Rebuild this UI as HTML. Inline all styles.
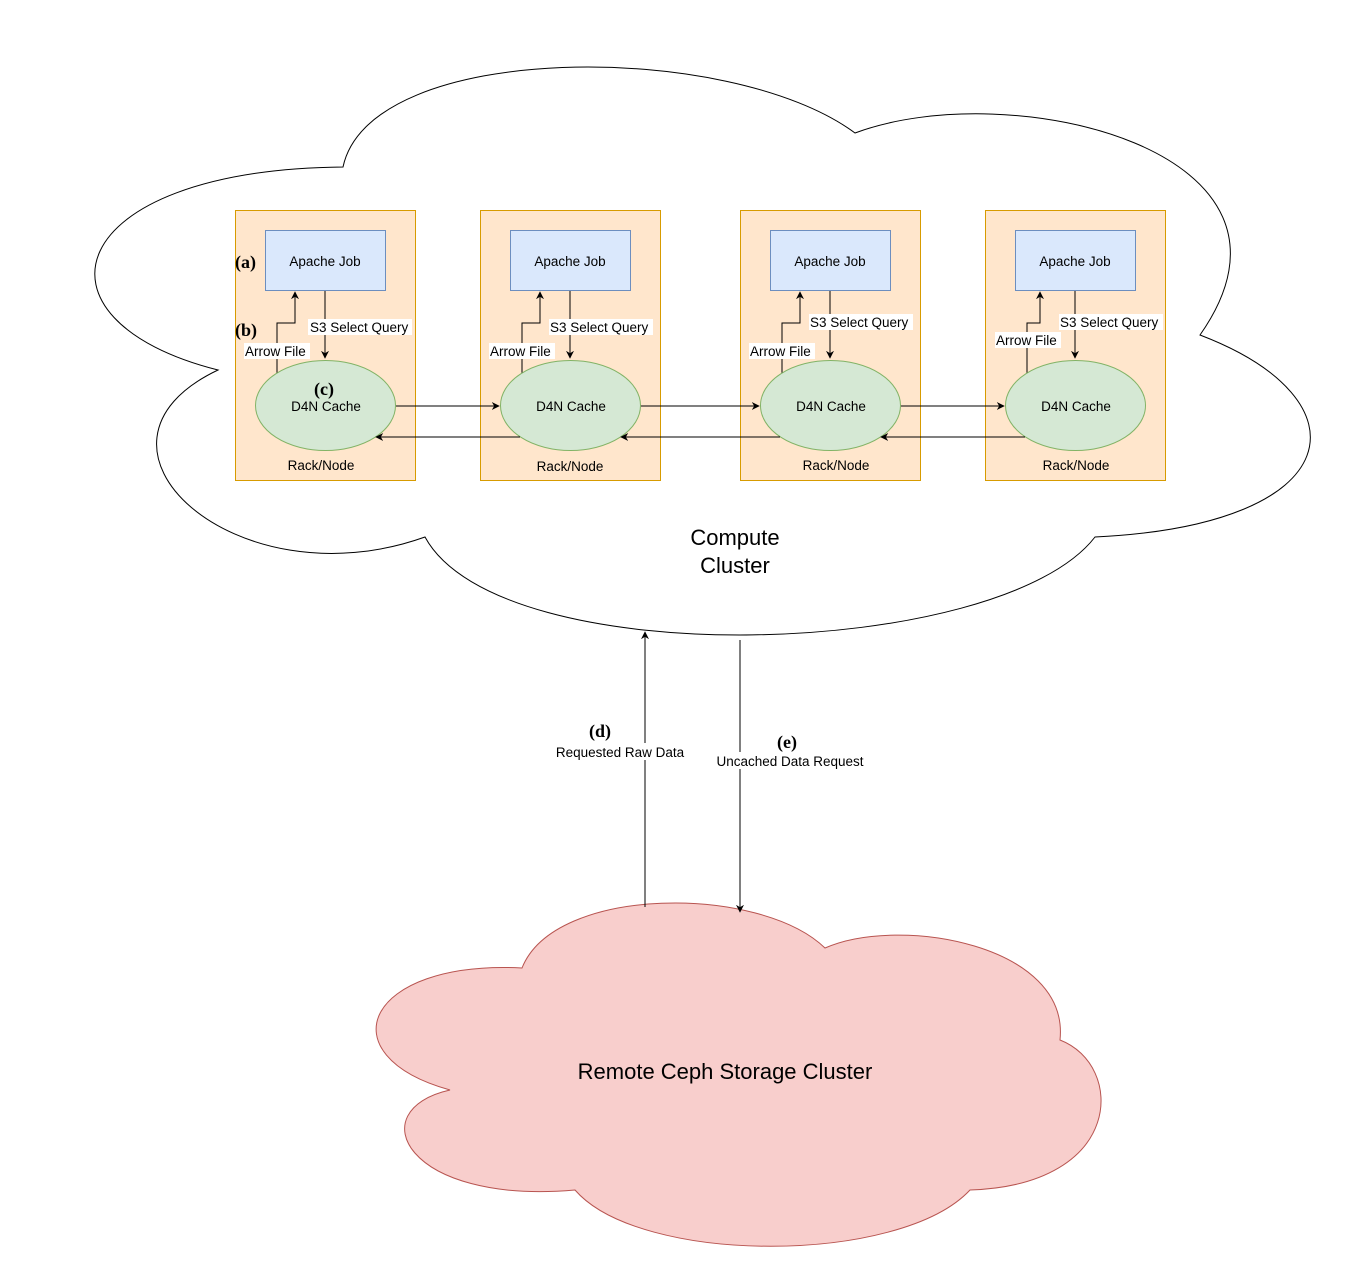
<!DOCTYPE html>
<html><head><meta charset="utf-8"><style>
html,body{margin:0;padding:0;background:#fff}
svg{display:block}
text{font-family:"Liberation Sans",sans-serif;fill:#000}
.s{font-family:"Liberation Serif",serif;font-weight:bold;font-size:18px}
</style></head><body>
<svg width="1371" height="1271" viewBox="0 0 1371 1271" xmlns="http://www.w3.org/2000/svg">
<defs><marker id="a" viewBox="0 0 10 10" refX="9" refY="5" markerWidth="8" markerHeight="8" orient="auto-start-reverse" markerUnits="userSpaceOnUse"><path d="M0,0 L10,5 L0,10 L3,5 Z" fill="#000"/></marker></defs>
<path d="M343,167 C370,40 730,40 855,133 C1010,75 1330,150 1200,335 C1370,400 1350,525 1095,537 C1000,660 500,675 425,537 C235,605 60,445 218,370 C20,320 60,170 343,167 Z" fill="#fff" stroke="#000" stroke-width="1"/>
<text x="735" y="545" font-size="22" text-anchor="middle">Compute</text>
<text x="735" y="573" font-size="22" text-anchor="middle">Cluster</text>

<path d="M522,968 C555,885 760,885 825,948 C900,915 1070,945 1060,1040 C1125,1065 1125,1185 970,1190 C900,1265 640,1265 575,1190 C405,1205 360,1110 450,1090 C325,1055 365,960 522,968 Z" fill="#f8cecc" stroke="#b85450" stroke-width="1"/>
<text x="725" y="1079" font-size="22" text-anchor="middle">Remote Ceph Storage Cluster</text>

<line x1="645" y1="907" x2="645" y2="632" stroke="#000" marker-end="url(#a)"/>
<line x1="740" y1="640" x2="740" y2="912" stroke="#000" marker-end="url(#a)"/>
<rect x="553" y="743" width="136" height="17" fill="#fff"/>
<rect x="713" y="752" width="156" height="17" fill="#fff"/>
<text x="600" y="737" class="s" text-anchor="middle">(d)</text>
<text x="620" y="757" font-size="13.5" text-anchor="middle">Requested Raw Data</text>
<text x="787" y="748" class="s" text-anchor="middle">(e)</text>
<text x="790" y="766" font-size="13.5" text-anchor="middle">Uncached Data Request</text>

<g stroke-width="1">
<rect x="235.5" y="210.5" width="180" height="270" fill="#ffe6cc" stroke="#d79b00"/>
<rect x="480.5" y="210.5" width="180" height="270" fill="#ffe6cc" stroke="#d79b00"/>
<rect x="740.5" y="210.5" width="180" height="270" fill="#ffe6cc" stroke="#d79b00"/>
<rect x="985.5" y="210.5" width="180" height="270" fill="#ffe6cc" stroke="#d79b00"/>
<rect x="265.5" y="230.5" width="120" height="60" fill="#dae8fc" stroke="#6c8ebf"/>
<rect x="510.5" y="230.5" width="120" height="60" fill="#dae8fc" stroke="#6c8ebf"/>
<rect x="770.5" y="230.5" width="120" height="60" fill="#dae8fc" stroke="#6c8ebf"/>
<rect x="1015.5" y="230.5" width="120" height="60" fill="#dae8fc" stroke="#6c8ebf"/>
</g>
<g font-size="13.5" text-anchor="middle">
<text x="325" y="266">Apache Job</text><text x="570" y="266">Apache Job</text><text x="830" y="266">Apache Job</text><text x="1075" y="266">Apache Job</text>
<text x="321" y="470">Rack/Node</text><text x="570" y="471">Rack/Node</text><text x="836" y="470">Rack/Node</text><text x="1076" y="470">Rack/Node</text>
</g>
<g fill="none" stroke="#000">
<path d="M277,373 V323 H295 V292" marker-end="url(#a)"/>
<path d="M522,373 V323 H540 V292" marker-end="url(#a)"/>
<path d="M782,373 V323 H800 V292" marker-end="url(#a)"/>
<path d="M1027,373 V323 H1040 V292" marker-end="url(#a)"/>
<path d="M325,291 V358" marker-end="url(#a)"/>
<path d="M570,291 V358" marker-end="url(#a)"/>
<path d="M830,291 V358" marker-end="url(#a)"/>
<path d="M1075,291 V358" marker-end="url(#a)"/>
</g>
<g fill="#d5e8d4" stroke="#82b366">
<ellipse cx="325.5" cy="405.5" rx="70" ry="45"/>
<ellipse cx="570.5" cy="405.5" rx="70" ry="45"/>
<ellipse cx="830.5" cy="405.5" rx="70" ry="45"/>
<ellipse cx="1075.5" cy="405.5" rx="70" ry="45"/>
</g>
<g stroke="#000" fill="none">
<line x1="396" y1="406" x2="499" y2="406" marker-end="url(#a)"/>
<line x1="641" y1="406" x2="759" y2="406" marker-end="url(#a)"/>
<line x1="901" y1="406" x2="1004" y2="406" marker-end="url(#a)"/>
<line x1="520" y1="437" x2="376" y2="437" marker-end="url(#a)"/>
<line x1="780" y1="437" x2="621" y2="437" marker-end="url(#a)"/>
<line x1="1025" y1="437" x2="881" y2="437" marker-end="url(#a)"/>
</g>
<g fill="#fff">
<rect x="308" y="319" width="104" height="16"/><rect x="244" y="343" width="66" height="16"/>
<rect x="549" y="319" width="104" height="16"/><rect x="489" y="343" width="66" height="16"/>
<rect x="809" y="314" width="104" height="16"/><rect x="749" y="343" width="66" height="16"/>
<rect x="1059" y="314" width="104" height="16"/><rect x="995" y="332" width="66" height="16"/>
</g>
<g font-size="13.5">
<text x="310" y="332">S3 Select Query</text><text x="245" y="356">Arrow File</text>
<text x="550" y="332">S3 Select Query</text><text x="490" y="356">Arrow File</text>
<text x="810" y="327">S3 Select Query</text><text x="750" y="356">Arrow File</text>
<text x="1060" y="327">S3 Select Query</text><text x="996" y="345">Arrow File</text>
</g>
<g font-size="13.5" text-anchor="middle">
<text x="326" y="411">D4N Cache</text><text x="571" y="411">D4N Cache</text><text x="831" y="411">D4N Cache</text><text x="1076" y="411">D4N Cache</text>
</g>
<text x="235" y="268" class="s">(a)</text>
<text x="235" y="336" class="s">(b)</text>
<text x="314" y="395" class="s">(c)</text>
</svg>
</body></html>
